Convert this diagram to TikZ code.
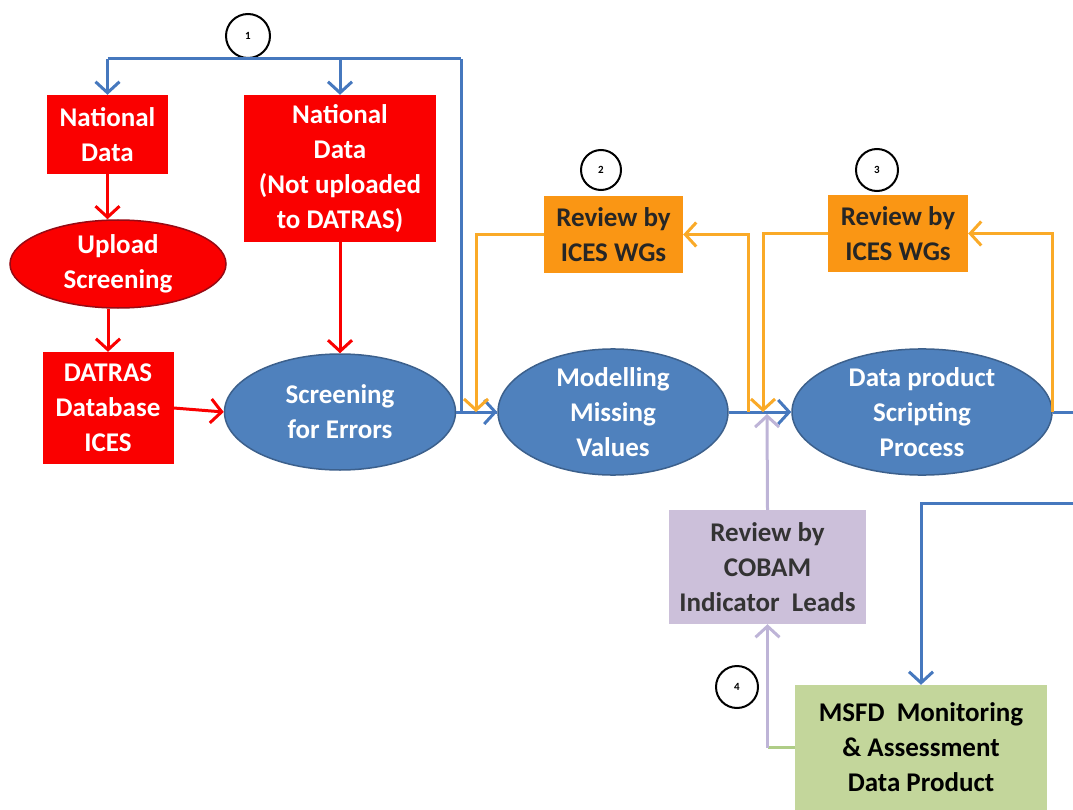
\documentclass[tikz,border=0pt]{standalone}
\usepackage{fontspec}
\setmainfont{Carlito}
\usepackage{tikz}
\usetikzlibrary{positioning, shapes.geometric, arrows.meta}
\definecolor{msRed}{RGB}{250, 0, 0}
\definecolor{msDarkRed}{RGB}{150, 10, 20}
\definecolor{msBlue}{RGB}{79, 129, 189}
\definecolor{msBlueEdge}{RGB}{60, 96, 140}
\definecolor{msLine}{RGB}{70, 120, 190}
\definecolor{msOrange}{RGB}{250, 150, 20}
\definecolor{msOrangeLine}{RGB}{250, 170, 40}
\definecolor{msLilac}{RGB}{204, 192, 218}
\definecolor{msLilacLine}{RGB}{190, 180, 215}
\definecolor{msGreen}{RGB}{195, 214, 155}
\definecolor{msGreenLine}{RGB}{175, 205, 135}
\tikzset{
    base/.style={
        font=\bfseries\fontsize{27}{35}\selectfont,
        align=center,
        inner sep=0pt
    },
    redbox/.style={
        base,
        rectangle,
        fill=msRed,
        text=white
    },
    redoval/.style={
        base,
        ellipse,
        draw=msDarkRed,
        line width=1.5pt,
        fill=msRed,
        text=white
    },
    blueoval/.style={
        base,
        ellipse,
        draw=msBlueEdge,
        line width=1.5pt,
        fill=msBlue,
        text=white
    },
    orangebox/.style={
        base,
        rectangle,
        fill=msOrange,
        text=black!85
    },
    lilacbox/.style={
        base,
        rectangle,
        fill=msLilac,
        text=black!80
    },
    greenbox/.style={
        base,
        rectangle,
        fill=msGreen,
        text=black
    },
    marker/.style={
        circle,
        draw=black,
        line width=2pt,
        fill=white,
        inner sep=0pt,
        font=\bfseries\fontsize{11}{11}\selectfont
    },
    flow/.style={
        -{Straight Barb[length=11pt, width=24pt]},
        line width=3pt
    },
    bflow/.style={flow, color=msLine},
    rflow/.style={flow, color=msRed},
    oflow/.style={flow, color=msOrangeLine},
    pflow/.style={flow, color=msLilacLine},
    bline/.style={line width=3pt, color=msLine},
    gline/.style={line width=3pt, color=msGreenLine}
}

\begin{document}
\begin{tikzpicture}[x=1pt, y=-1pt]
  \useasboundingbox (0,0) rectangle (1073,810);

  % Upload branch
  \node[redbox, minimum width=121pt, minimum height=79pt] (nd1) at (107.5,134.5) {National\\Data};
  \node[redoval, minimum width=216pt, minimum height=88pt] (upload) at (118,264) {Upload\\Screening};
  \node[redbox, minimum width=131pt, minimum height=112pt] (datras) at (108,408) {DATRAS\\Database\\ICES};
  \node[redbox, minimum width=192pt, minimum height=147pt] (nd2) at (340,168.5) {National\\Data\\(Not uploaded\\to DATRAS)};

  % Processing steps
  \node[blueoval, minimum width=231pt, minimum height=116pt] (screen) at (340,412) {Screening\\for Errors};
  \node[blueoval, minimum width=230pt, minimum height=116pt] (model) at (613,412) {Modelling\\Missing\\Values};
  \node[blueoval, minimum width=260pt, minimum height=116pt] (script) at (922,412) {Data product\\Scripting\\Process};

  % Reviews
  \node[orangebox, minimum width=139pt, minimum height=77pt] (rev1) at (613.5,234.5) {Review by\\ICES WGs};
  \node[orangebox, minimum width=140pt, minimum height=77pt] (rev2) at (898,233.5) {Review by\\ICES WGs};
  \node[lilacbox, minimum width=197pt, minimum height=114pt] (cobam) at (767.5,567) {Review by\\COBAM\\Indicator~~Leads};
  \node[greenbox, minimum width=252pt, minimum height=125pt] (msfd) at (921,747.5) {MSFD~~Monitoring\\\&~Assessment\\Data~Product};

  % Numbered markers
  \node[marker, minimum size=44pt] (c1) at (248,36) {1};
  \node[marker, minimum size=40pt] (c2) at (601,170) {2};
  \node[marker, minimum size=42pt] (c3) at (877,170) {3};
  \node[marker, minimum size=42pt] (c4) at (737,687) {4};

  \coordinate (split) at (461,59);
  \coordinate (j0) at (476,412);
  \coordinate (j1) at (748,412);
  \coordinate (j2) at (763,412);
  \coordinate (j3) at (767,414);
  \coordinate (outR) at (1073,412);
  \coordinate (outB) at (1073,503);

  % Blue flow
  \draw[bline] (nd1.north |- split) -- (split);
  \draw[bflow] (nd1.north |- split) -- (nd1.north);
  \draw[bflow] (nd2.north |- split) -- (nd2.north);
  \draw[bflow] (split) |- (model.west);
  \draw[bline] (screen.east) -- (model.west);
  \draw[bflow] (model.east) -- (script.west);
  \draw[bline] (script.east) -- (outR);
  \draw[bflow] (outB) -| (msfd.north);

  % Red flow
  \draw[rflow] (nd1.south) -- (nd1.south |- upload.north);
  \draw[rflow] (upload.south -| datras.north) -- (datras.north);
  \draw[rflow] (datras.east) -- (screen.west);
  \draw[rflow] (nd2.south) -- (screen.north);

  % Review loops
  \draw[oflow] (j1) |- (rev1.east);
  \draw[oflow] (rev1.west) -| (j0);
  \draw[oflow] (script.east) |- (rev2.east);
  \draw[oflow] (rev2.west) -| (j2);
  \draw[pflow] (cobam.north) -- (j3);
  \draw[gline] (msfd.west) -- (msfd.west -| cobam.south);
  \draw[pflow] (msfd.west -| cobam.south) -- (cobam.south);
\end{tikzpicture}
\end{document}
